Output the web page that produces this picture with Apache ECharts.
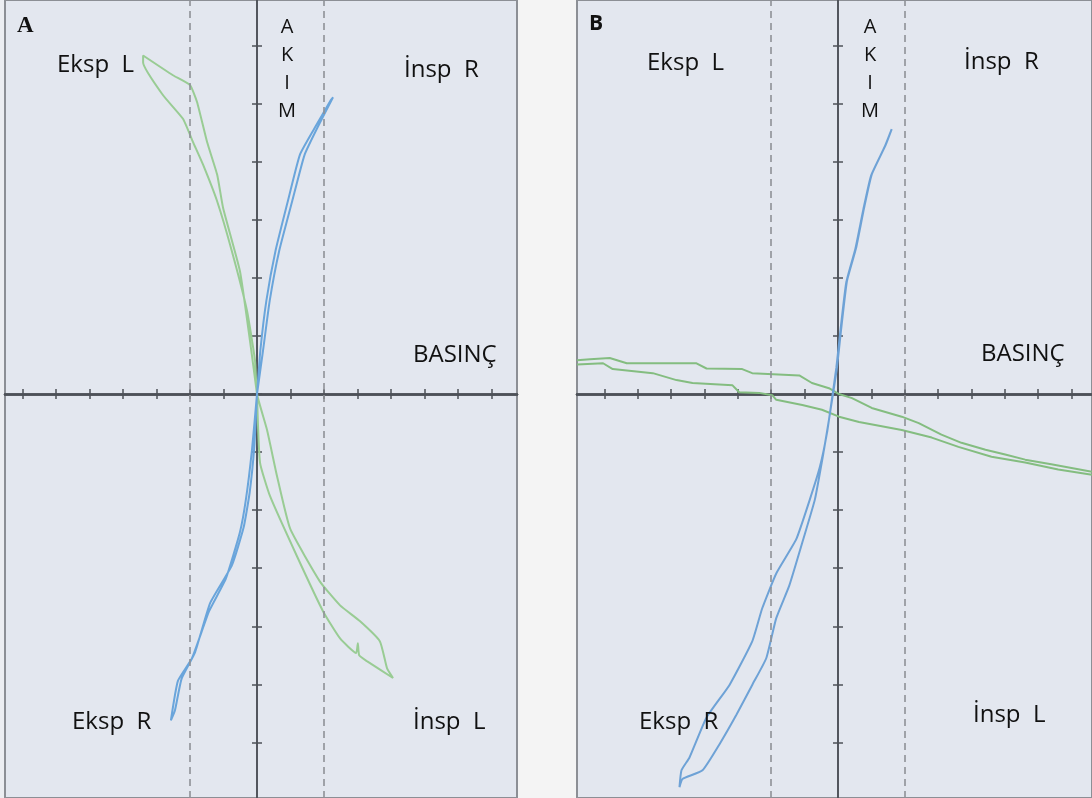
<!DOCTYPE html>
<html>
<head>
<meta charset="utf-8">
<script src="https://cdn.jsdelivr.net/npm/echarts@6/dist/echarts.min.js"></script>
<style>
html,body{margin:0;padding:0;background:#f2f3f5;}
#c{width:1092px;height:798px;}
</style>
</head>
<body>
<div id="c"></div>
<script>
// ---- data (units: pressure along x, flow along y) ----
const xTicks = [-7,-6,-5,-4,-3,-2,-1,0,1,2,3,4,5,6,7];
const yTicks = [-6,-5,-4,-3,-2,-1,0,1,2,3,4,5,6];
const dashedAt = [-2, 2];

// Panel A
const blueA = [
  [0,0],[0.18,0.75],[0.38,1.61],[0.66,2.46],[1.05,3.32],[1.42,4.12],[1.84,4.63],[2.27,5.11],
  [2.2,5.06],[1.72,4.58],[1.28,4.12],[0.92,3.32],[0.55,2.46],[0.28,1.61],[0.1,0.75],[0,0],
  [-0.15,-0.96],[-0.33,-1.81],[-0.51,-2.38],[-0.93,-3.18],[-1.43,-3.74],[-1.94,-4.55],[-2.36,-4.94],[-2.57,-5.62],
  [-2.45,-5.45],[-2.25,-4.9],[-1.85,-4.45],[-1.4,-3.6],[-0.75,-2.95],[-0.4,-2.3],[-0.22,-1.7],[-0.08,-0.9],[0,0]
];
const greenA = [
  [0,0],[-0.21,0.92],[-0.51,2.12],[-1.01,3.2],[-1.19,3.78],[-1.49,4.34],[-1.79,5.03],[-2.0,5.32],[-2.51,5.49],[-3.4,5.83],
  [-3.4,5.71],[-2.81,5.15],[-2.21,4.74],[-1.91,4.34],[-1.61,3.95],[-1.19,3.32],[-0.75,2.46],[-0.3,1.44],[-0.06,0.58],[0,0],
  [0.3,-0.62],[0.6,-1.42],[0.99,-2.32],[1.88,-3.23],[2.48,-3.64],[3.07,-3.91],[3.67,-4.26],[3.88,-4.72],[4.06,-4.89],
  [3.28,-4.6],[3.05,-4.5],[3.01,-4.29],[2.96,-4.46],[2.48,-4.21],[1.97,-3.74],[1.19,-2.79],[0.39,-1.76],[0.09,-1.18],[0,0]
];

// Panel B
const blueB = [
  [-0.15,0],[-0.03,0.46],[0.09,1.09],[0.27,1.95],[0.54,2.51],[0.78,3.2],[1.01,3.78],[1.43,4.29],[1.61,4.56],
  [1.58,4.52],[1.4,4.26],[0.99,3.76],[0.76,3.18],[0.52,2.5],[0.25,1.93],[0.07,1.08],[-0.05,0.45],[-0.16,0],
  [-0.33,-0.67],[-0.54,-1.25],[-0.84,-1.81],[-1.25,-2.5],[-1.85,-3.09],[-2.27,-3.69],[-2.57,-4.26],[-3.25,-5.01],[-3.94,-5.57],[-4.45,-6.26],[-4.69,-6.48],[-4.75,-6.77],
  [-4.66,-6.63],[-4.06,-6.48],[-3.55,-6.03],[-3.04,-5.52],[-2.57,-5.01],[-2.15,-4.55],[-1.85,-3.86],[-1.46,-3.3],[-1.04,-2.5],[-0.69,-1.81],[-0.42,-0.96],[-0.27,-0.44],[-0.15,0]
];
const greenB1 = [
  [-7.82,0.58],[-7.43,0.6],[-6.84,0.62],[-6.33,0.53],[-4.24,0.53],[-3.94,0.44],[-2.87,0.43],[-2.57,0.36],[-1.16,0.32],[-0.78,0.19],[-0.27,0.1],[0.03,0],
  [0.42,-0.07],[1.01,-0.24],[1.91,-0.39],[2.42,-0.5],[3.1,-0.7],[3.7,-0.84],[4.42,-0.96],[5.01,-1.04],[5.61,-1.13],[6.39,-1.21],[7.61,-1.34]
];
const greenB2 = [
  [-7.82,0.51],[-7.04,0.53],[-6.75,0.43],[-5.55,0.36],[-4.84,0.24],[-4.36,0.19],[-3.16,0.15],[-2.96,0.03],[-2.36,0.02],[-1.97,-0.02],[-1.85,-0.1],[-1.07,-0.19],[-0.48,-0.27],
  [0.03,-0.39],[0.63,-0.48],[1.91,-0.62],[2.81,-0.75],[3.61,-0.91],[4.6,-1.08],[5.61,-1.18],[6.6,-1.3],[7.61,-1.39]
];

const labelsA = { tl:'Eksp  L', tr:'İnsp  R', bl:'Eksp  R', br:'İnsp  L', x:'BASINÇ', y:['A','K','I','M'], panel:'A' };
const labelsB = { tl:'Eksp  L', tr:'İnsp  R', bl:'Eksp  R', br:'İnsp  L', x:'BASINÇ', y:['A','K','I','M'], panel:'B' };

// ---- layout ----
const UX = 33.5, UY = 58.5, AXIS_Y = 394;
const gTop = -3, gH = 804;
const yMin = -(gTop + gH - AXIS_Y) / UY, yMax = (AXIS_Y - gTop) / UY;
const A_left = 5, A_axis = 257, A_right = 517;
const B_left = 577, B_axis = 839, B_right = 1094;

const axisColor = '#4d5158';
function xAx(g, min, max, pos){
  return {gridIndex:g, type:'value', min:min, max:max, position:pos,
    axisLine:{show:true, onZero:true, lineStyle:{color:axisColor, width:2.5}},
    axisTick:{show:true, customValues:xTicks, length:5, lineStyle:{color:axisColor, width:1.5}},
    axisLabel:{show:false}, splitLine:{show:false}};
}
function yAx(g, pos){
  return {gridIndex:g, type:'value', min:yMin, max:yMax, position:pos,
    axisLine:{show:true, onZero:true, lineStyle:{color:axisColor, width:1.6}},
    axisTick:{show:true, customValues:yTicks, length:5, lineStyle:{color:axisColor, width:1.5}},
    axisLabel:{show:false}, splitLine:{show:false}};
}
const A_min = -(A_axis - A_left)/UX, A_max = (A_right - A_axis)/UX;
const B_min = -(B_axis - B_left)/UX, B_max = (B_right - B_axis)/UX;

const dashLine = {silent:true, symbol:'none', label:{show:false},
  lineStyle:{color:'#8e9197', type:[7,5], width:1.6},
  data: dashedAt.map(v => ({xAxis:v}))};

function lineSeries(data, color, xi, withDash, smooth){
  const s = {type:'line', data:data, xAxisIndex:xi, yAxisIndex:xi, showSymbol:false, symbol:'none',
    smooth:smooth, lineStyle:{color:color, width:2}, z:3, animation:false};
  if (withDash) s.markLine = dashLine;
  return s;
}

const txtFont = '"Open Sans", "Liberation Sans", sans-serif';
function textEl(x, y, t, opts){
  return {type:'text', x:x, y:y, z:10,
    style:Object.assign({text:t, fill:'#111', font:'24px ' + txtFont, textVerticalAlign:'middle'}, opts||{})};
}
function panelTexts(L, pos){
  const els = [];
  els.push(textEl(pos.tl[0], pos.tl[1], L.tl));
  els.push(textEl(pos.tr[0], pos.tr[1], L.tr));
  els.push(textEl(pos.bl[0], pos.bl[1], L.bl));
  els.push(textEl(pos.br[0], pos.br[1], L.br));
  els.push(textEl(pos.x[0], pos.x[1], L.x));
  L.y.forEach((ch, i) => els.push(textEl(pos.yx, 27 + i*28, ch, {textAlign:'center', font:'20px ' + txtFont})));
  return els;
}

const chart = echarts.init(document.getElementById('c'), null, {renderer:'canvas'});
const graphic = [
  {type:'rect', shape:{x:518, y:0, width:58, height:798}, style:{fill:'#f4f4f4'}, z:-1}
].concat(
  panelTexts(labelsA, {tl:[57,65], tr:[404,70], bl:[72,722], br:[413,722], x:[413,355], yx:287}),
  panelTexts(labelsB, {tl:[647,63], tr:[964,62], bl:[639,722], br:[973,715], x:[981,354], yx:870}),
  [
    textEl(17, 26, labelsA.panel, {font:'bold 23px "Liberation Serif", serif'}),
    textEl(589, 24, labelsB.panel, {font:'bold 21px "Open Sans", "Liberation Sans", sans-serif'})
  ]
);

chart.setOption({
  backgroundColor:'#eceef2',
  animation:false,
  grid:[
    {left:A_left, top:gTop, width:A_right - A_left, height:gH, show:true, backgroundColor:'#e3e7ef', borderColor:'#8c8f95', borderWidth:2},
    {left:B_left, top:gTop, width:B_right - B_left, height:gH, show:true, backgroundColor:'#e3e7ef', borderColor:'#8c8f95', borderWidth:2}
  ],
  xAxis:[ xAx(0, A_min, A_max, 'bottom'), xAx(0, A_min, A_max, 'top'), xAx(1, B_min, B_max, 'bottom'), xAx(1, B_min, B_max, 'top') ],
  yAxis:[ yAx(0,'left'), yAx(0,'right'), yAx(1,'left'), yAx(1,'right') ],
  series:[
    lineSeries(greenA, '#99cc94', 0, true, 0.15),
    lineSeries(blueA, '#6aa5db', 0, false, 0.15),
    lineSeries(greenB1, '#84bd80', 2, true, false),
    lineSeries(greenB2, '#84bd80', 2, false, false),
    lineSeries(blueB, '#6ea2d6', 2, false, 0.15)
  ],
  graphic: graphic
});
</script>
</body>
</html>
